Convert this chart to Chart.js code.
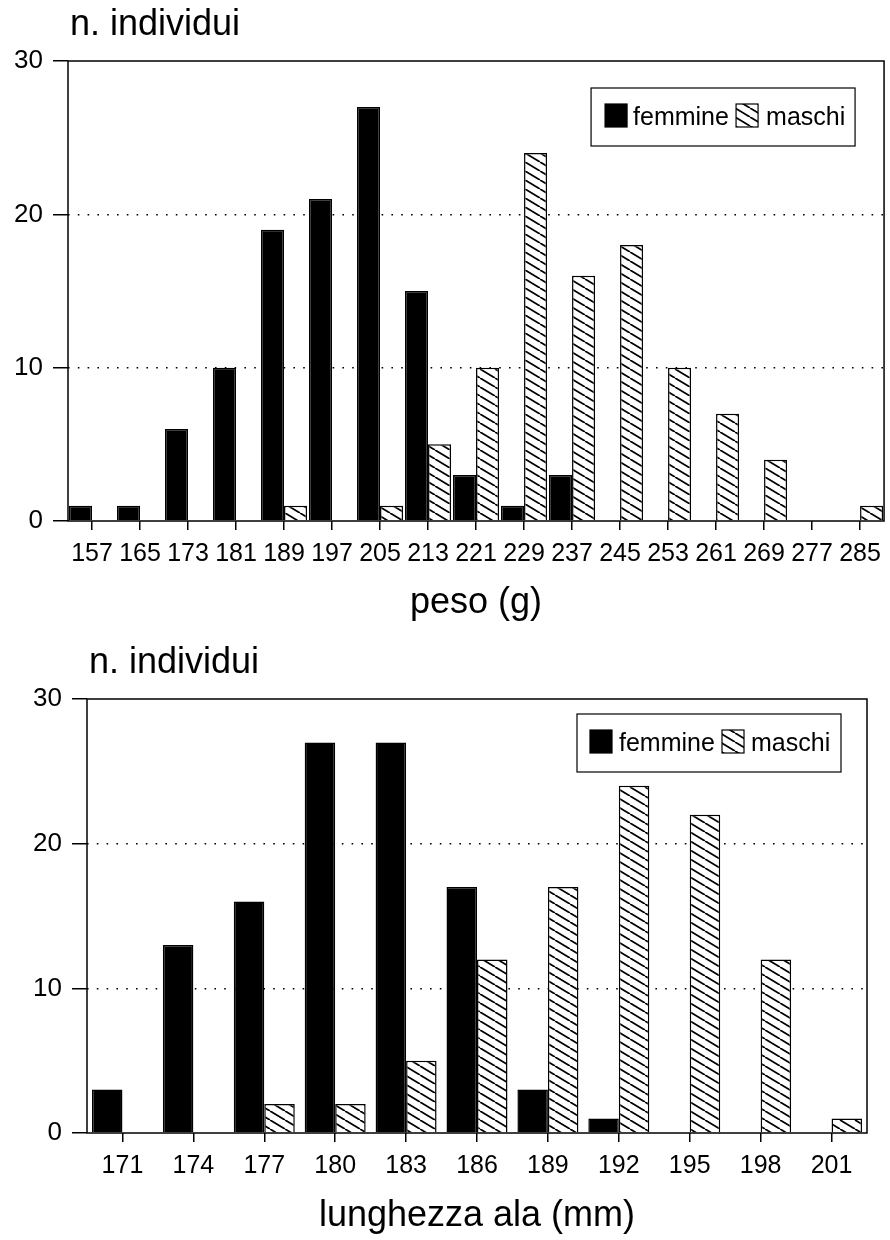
<!DOCTYPE html>
<html>
<head>
<meta charset="utf-8">
<title>peso e lunghezza ala</title>
<script src="https://cdn.jsdelivr.net/npm/chart.js@4.4.0/dist/chart.umd.min.js"></script>
<style>
  html, body { margin: 0; padding: 0; background: #fff; }
  .wrap { position: relative; width: 890px; }
  #top { height: 625px; }
  #bottom { height: 615px; }
</style>
</head>
<body>
<div class="wrap" id="top"><canvas id="pesoChart"></canvas></div>
<div class="wrap" id="bottom"><canvas id="alaChart"></canvas></div>
<script>
// data
const pesoLabels = ['157', '165', '173', '181', '189', '197', '205', '213', '221',
  '229', '237', '245', '253', '261', '269', '277', '285'];
const pesoFemmine = [1, 1, 6, 10, 19, 21, 27, 15, 3, 1, 3, 0, 0, 0, 0, 0, 0];
const pesoMaschi = [0, 0, 0, 0, 1, 0, 1, 5, 10, 24, 16, 18, 10, 7, 4, 0, 1];

const alaLabels = ['171', '174', '177', '180', '183', '186', '189', '192', '195', '198', '201'];
const alaFemmine = [3, 13, 16, 27, 27, 17, 3, 1, 0, 0, 0];
const alaMaschi = [0, 0, 2, 2, 5, 12, 17, 24, 22, 12, 1];

const seriesNames = ['femmine', 'maschi'];
const yTitle = 'n. individui';
const yMax = 30;
const yStep = 10;

const FONT = '"Liberation Sans", Arial, Helvetica, sans-serif';
Chart.defaults.font.family = FONT;
Chart.defaults.color = '#000';

// diagonal hatching, lines running down to the right
function hatch() {
  const w = 15, h = 9;
  const c = document.createElement('canvas');
  c.width = w; c.height = h;
  const g = c.getContext('2d');
  g.fillStyle = '#fff';
  g.fillRect(0, 0, w, h);
  g.strokeStyle = '#000';
  g.lineWidth = 1.8;
  for (const o of [-w, 0, w]) {
    g.beginPath();
    g.moveTo(o, 0);
    g.lineTo(o + w, h);
    g.stroke();
  }
  return g.createPattern(c, 'repeat');
}

// box round the plot, "n. individui" and the framed legend
const framePlugin = {
  id: 'frame',
  afterDraw(chart, args, opts) {
    const { ctx, chartArea: a } = chart;
    ctx.save();
    ctx.strokeStyle = '#000';
    ctx.lineWidth = 1.5;
    ctx.strokeRect(a.left, a.top, a.right - a.left, a.bottom - a.top);

    ctx.fillStyle = '#000';
    ctx.font = '36px ' + FONT;
    ctx.textBaseline = 'alphabetic';
    ctx.textAlign = 'left';
    ctx.fillText(yTitle, a.left + 2, a.top - 26);

    const w = 264, h = 58;
    const lx = a.right - opts.right - w;
    const ly = a.top + opts.top;
    ctx.fillStyle = '#fff';
    ctx.fillRect(lx, ly, w, h);
    ctx.lineWidth = 1.2;
    ctx.strokeRect(lx, ly, w, h);

    ctx.font = '25px ' + FONT;
    chart.data.datasets.forEach((ds, i) => {
      const sx = lx + opts.boxX[i];
      ctx.fillStyle = ds.backgroundColor;
      ctx.fillRect(sx, ly + 16, 22, 23);
      ctx.lineWidth = 1.2;
      ctx.strokeRect(sx, ly + 16, 22, 23);
      ctx.fillStyle = '#000';
      ctx.fillText(ds.label, lx + opts.textX[i], ly + 37);
    });
    ctx.restore();
  }
};

function makeChart(id, labels, fem, mas, xTitle, lay) {
  return new Chart(document.getElementById(id), {
    type: 'bar',
    data: {
      labels: labels,
      datasets: [
        { label: seriesNames[0], data: fem, backgroundColor: '#000', borderColor: '#000', borderWidth: 1.5 },
        { label: seriesNames[1], data: mas, backgroundColor: hatch(), borderColor: '#000', borderWidth: 1.5 }
      ]
    },
    options: {
      responsive: true,
      maintainAspectRatio: false,
      animation: false,
      layout: { padding: { top: lay.top, right: lay.right, left: 0, bottom: 0 } },
      datasets: { bar: { categoryPercentage: lay.catPct, barPercentage: 1 } },
      plugins: {
        legend: { display: false },
        tooltip: { enabled: false },
        frame: lay.legend
      },
      scales: {
        x: {
          afterFit: (s) => { s.height = lay.xHeight; },
          grid: { offset: false, drawOnChartArea: false, tickLength: 9, color: '#000', lineWidth: 1.5 },
          border: { display: false },
          ticks: { font: { size: 25 }, padding: 9, autoSkip: false, maxRotation: 0 },
          title: { display: true, text: xTitle, font: { size: 36 }, padding: { top: 0, bottom: lay.titlePad } }
        },
        y: {
          min: 0,
          max: yMax,
          afterFit: (s) => { s.width = lay.yWidth; },
          ticks: { stepSize: yStep, font: { size: 26 }, padding: 10 },
          grid: {
            tickLength: 15,
            tickColor: '#000',
            tickWidth: 1.5,
            tickBorderDash: [],
            lineWidth: 1.5,
            color: (c) => (c.tick && c.tick.value > 0 && c.tick.value < yMax) ? '#000' : 'rgba(0,0,0,0)'
          },
          border: { display: false, dash: [1.6, 8.2] }
        }
      }
    },
    plugins: [framePlugin]
  });
}

makeChart('pesoChart', pesoLabels, pesoFemmine, pesoMaschi, 'peso (g)', {
  top: 61, right: 3, yWidth: 68, xHeight: 104, catPct: 0.96, titlePad: 0,
  legend: { right: 29, top: 27, boxX: [14, 145], textX: [42, 175] }
});

makeChart('alaChart', alaLabels, alaFemmine, alaMaschi, 'lunghezza ala (mm)', {
  top: 74, right: 23, yWidth: 87, xHeight: 107, catPct: 0.86, titlePad: 2,
  legend: { right: 26, top: 15, boxX: [13, 145], textX: [42, 174] }
});
</script>
</body>
</html>
